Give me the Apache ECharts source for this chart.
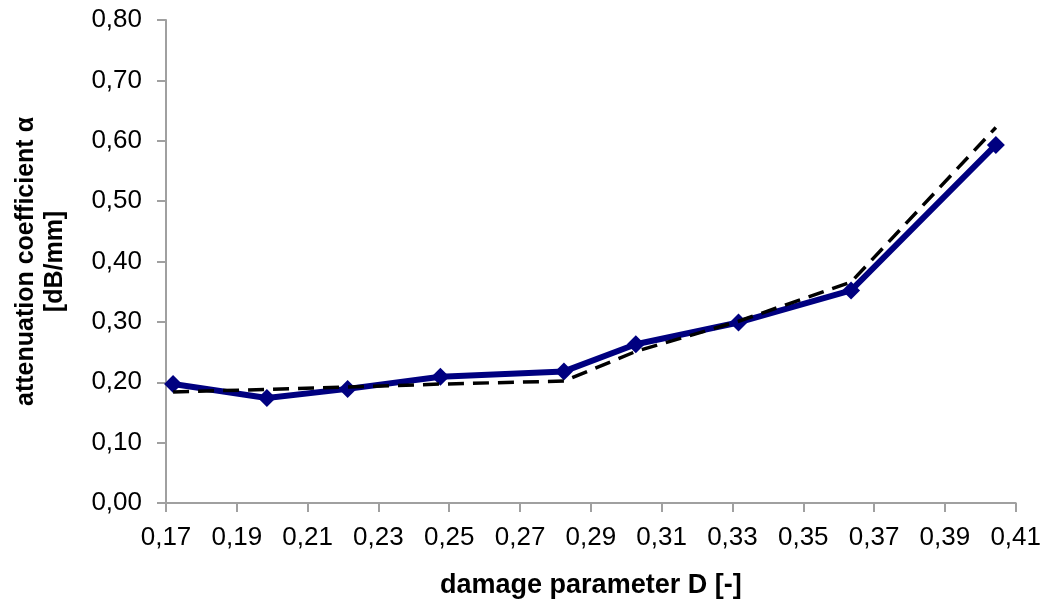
<!DOCTYPE html>
<html>
<head>
<meta charset="utf-8">
<script src="https://cdn.jsdelivr.net/npm/echarts@6/dist/echarts.min.js"></script>
<style>
html,body{margin:0;padding:0;background:#fff;}
#c{width:1044px;height:604px;}
</style>
</head>
<body>
<div id="c"></div>
<script>
// Measured damage parameter D and attenuation coefficient
var damageD = [0.172, 0.1985, 0.2213, 0.2475, 0.2824, 0.3027, 0.3317, 0.3635, 0.4044];
var measured = [0.197, 0.174, 0.189, 0.209, 0.218, 0.263, 0.299, 0.352, 0.593];
// Model (dashed) values at the same D
var model = [0.184, 0.188, 0.192, 0.197, 0.202, 0.251, 0.301, 0.366, 0.622];
var xTicks = [0.17, 0.19, 0.21, 0.23, 0.25, 0.27, 0.29, 0.31, 0.33, 0.35, 0.37, 0.39, 0.41];
var yTicks = [0, 0.1, 0.2, 0.3, 0.4, 0.5, 0.6, 0.7, 0.8];

function pairs(xs, ys) { return xs.map(function (x, i) { return [x, ys[i]]; }); }
function fmt(v) { return Number(v).toFixed(2).replace('.', ','); }

var font = 'Liberation Sans, Arial, sans-serif';
var axisColor = '#a0a0a0';

var chart = echarts.init(document.getElementById('c'), null, {renderer: 'canvas'});
chart.setOption({
  animation: false,
  backgroundColor: '#fff',
  grid: {left: 166, right: 28, top: 20, bottom: 98, containLabel: false},
  xAxis: {
    type: 'value',
    min: 0.17, max: 0.41,
    name: 'damage parameter D [-]',
    nameLocation: 'middle',
    nameGap: 69,
    nameTextStyle: {fontFamily: font, fontWeight: 'bold', fontSize: 27, color: '#000'},
    axisLine: {show: true, lineStyle: {color: axisColor, width: 2}},
    axisTick: {show: true, inside: false, length: 9, customValues: xTicks, lineStyle: {color: axisColor, width: 2}},
    axisLabel: {show: true, customValues: xTicks, margin: 22, fontFamily: font, fontSize: 26, color: '#000', formatter: fmt},
    splitLine: {show: false}
  },
  yAxis: {
    type: 'value',
    min: 0, max: 0.8, interval: 0.1,
    name: 'attenuation coefficient α\n[dB/mm]',
    nameLocation: 'middle',
    nameGap: 96,
    nameTextStyle: {fontFamily: font, fontWeight: 'bold', fontSize: 25, lineHeight: 29, color: '#000', align: 'center'},
    axisLine: {show: true, lineStyle: {color: axisColor, width: 2}},
    axisTick: {show: true, inside: false, length: 9, customValues: yTicks, lineStyle: {color: axisColor, width: 2}},
    axisLabel: {show: true, customValues: yTicks, margin: 24, fontFamily: font, fontSize: 26, color: '#000', formatter: fmt},
    splitLine: {show: false}
  },
  series: [
    {
      type: 'line',
      name: 'measured',
      data: pairs(damageD, measured),
      symbol: 'diamond',
      symbolSize: 18,
      itemStyle: {color: '#000080'},
      lineStyle: {color: '#000080', width: 6},
      z: 2
    },
    {
      type: 'line',
      name: 'model',
      data: pairs(damageD, model),
      symbol: 'none',
      lineStyle: {color: '#000', width: 3.5, type: [16, 9]},
      z: 3
    }
  ]
});
</script>
</body>
</html>
